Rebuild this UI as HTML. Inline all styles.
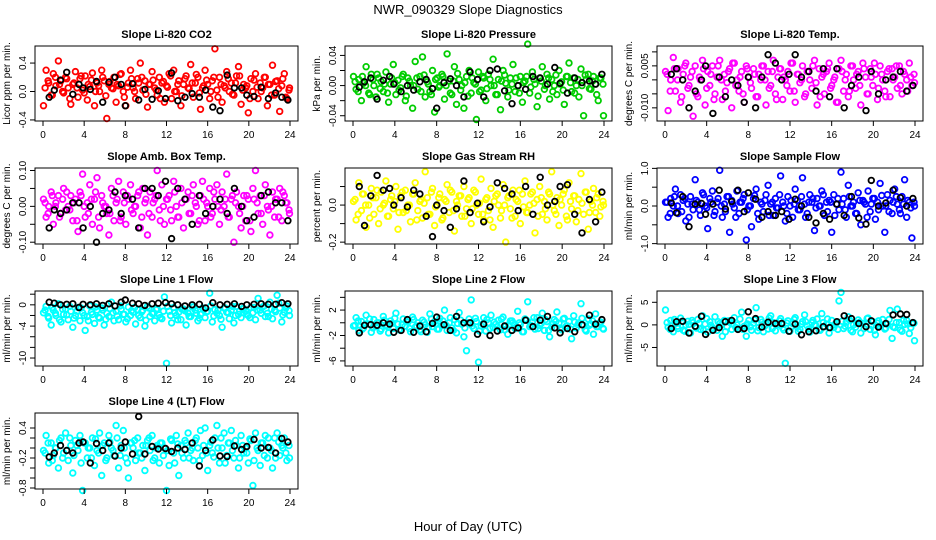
<!DOCTYPE html>
<html><head><meta charset="utf-8"><style>
body{margin:0;background:#fff}
svg{display:block;font-family:"Liberation Sans",sans-serif}
</style></head><body>
<svg id="chart" width="936" height="540" viewBox="0 0 936 540" xmlns="http://www.w3.org/2000/svg">
<rect width="936" height="540" fill="#fff"/>
<text x="468" y="14" text-anchor="middle" font-size="13">NWR_090329  Slope Diagnostics</text>
<text x="468" y="531" text-anchor="middle" font-size="13">Hour of Day (UTC)</text>
</svg>
<script>
const H=[0.05,0.3,0.55,0.8,1.0,1.25,1.5,1.75,2.0,2.2,2.45,2.7,2.9,3.15,3.4,3.6,3.85,4.1,4.3,4.55,4.8,5.0,5.25,5.5,5.7,5.95,6.2,6.4,6.65,6.9,7.1,7.35,7.6,7.8,8.05,8.3,8.5,8.75,9.0,9.2,9.45,9.7,9.9,10.15,10.4,10.6,10.85,11.1,11.3,11.55,11.8,12.0,12.25,12.5,12.7,12.95,13.2,13.4,13.65,13.9,14.1,14.35,14.6,14.8,15.05,15.3,15.5,15.75,16.0,16.2,16.45,16.7,16.9,17.15,17.4,17.6,17.85,18.1,18.3,18.55,18.8,19.0,19.25,19.5,19.7,19.95,20.2,20.4,20.65,20.9,21.1,21.35,21.6,21.8,22.05,22.3,22.5,22.75,23.0,23.2,23.45,23.7,23.95];
const H2=[0.2,0.5,0.9,1.2,1.6,1.9,2.3,2.6,3.0,3.3,3.7,4.0,4.4,4.7,5.1,5.4,5.8,6.1,6.5,6.8,7.2,7.5,7.9,8.2,8.6,8.9,9.3,9.6,10.0,10.3,10.7,11.0,11.4,11.7,12.1,12.4,12.8,13.1,13.5,13.8,14.2,14.5,14.9,15.2,15.6,15.9,16.3,16.6,17.0,17.3,17.7,18.0,18.4,18.7,19.1,19.4,19.8,20.1,20.5,20.8,21.2,21.5,21.9,22.2,22.6,22.9,23.3,23.6,23.9];
const B=[0.6,1.1,1.7,2.3,2.9,3.5,3.9,4.6,5.2,5.8,6.4,7.0,7.6,8.0,8.7,9.3,9.9,10.6,11.2,11.9,12.5,13.1,13.8,14.5,15.2,15.8,16.5,17.2,17.9,18.6,19.3,19.8,20.5,21.2,21.9,22.6,23.2,23.8];
const xTicks=[0,4,8,12,16,20,24];
const c1=[-0.2,0.3,0.12,-0.05,0.25,0.08,0.43,0.15,-0.02,0.2,0.05,-0.18,0.1,0.28,-0.08,0.18,0.02,0.22,-0.12,0.07,0.26,-0.2,0.12,0.0,0.3,0.15,-0.38,0.1,0.05,0.2,-0.15,0.08,0.25,0.0,-0.2,0.12,0.3,0.05,-0.1,0.18,0.4,0.02,0.15,-0.22,0.1,0.28,0.05,-0.05,0.2,0.12,-0.15,0.08,0.25,-0.1,0.3,0.0,0.15,-0.2,0.1,0.22,0.05,0.38,-0.08,0.12,0.2,-0.25,0.05,0.3,0.1,-0.1,0.15,0.6,0.02,0.2,-0.15,0.08,0.28,0.0,0.12,-0.05,0.22,0.35,-0.18,0.1,0.05,-0.3,0.18,0.0,0.25,-0.1,0.12,0.05,0.2,-0.2,0.1,0.37,-0.05,0.15,-0.28,0.08,0.25,-0.1,0.05];
const d1=[0.05,0.15,-0.05,0.2,0.1,0.0,0.18,-0.1,0.12,0.05,0.22,-0.02,0.1,0.16,0.0,0.08,0.2,-0.06,0.14,0.04,0.1,0.24,-0.08,0.06,0.18,0.0,0.12,0.2,-0.04,0.1,0.16,0.02,-0.1,0.14,0.06,0.22,0.0,0.1,-0.06,0.18,0.04,0.12,0.24,-0.02,0.08,0.16,0.0,0.2,-0.08,0.1,0.05,0.18,-0.04,0.12,0.22,0.02,0.08,-0.1,0.16,0.06,0.0,0.2,0.1,-0.05,0.14,0.04,0.18,-0.08,0.02];
const k1=[-0.08,0.02,0.16,0.27,-0.04,0.1,0.05,0.03,0.14,-0.15,0.13,0.2,0.1,-0.2,0.11,-0.12,0.03,-0.11,0.01,-0.1,0.26,-0.13,-0.08,-0.03,-0.08,0.02,-0.22,-0.27,0.23,0.05,0.05,-0.05,-0.07,0.06,-0.1,-0.02,-0.08,-0.12];
const c2=[0.012,-0.005,0.008,-0.02,0.003,0.025,-0.01,0.015,0.0,-0.015,0.01,0.005,-0.008,0.018,-0.022,0.002,0.028,-0.012,0.007,-0.003,0.015,-0.02,0.01,0.0,-0.03,0.032,-0.005,0.012,0.038,-0.015,0.005,-0.008,0.02,-0.035,0.01,0.0,0.015,-0.018,0.042,0.006,-0.012,0.025,-0.025,0.008,0.0,-0.03,0.012,0.02,-0.01,0.004,-0.045,0.018,-0.006,0.01,-0.02,0.015,0.0,0.035,-0.012,0.008,-0.032,0.02,0.003,-0.015,0.01,0.028,-0.008,0.0,0.012,-0.022,0.006,0.055,-0.01,0.018,0.002,-0.028,0.01,0.025,-0.005,0.015,-0.018,0.008,0.0,-0.012,0.02,0.005,-0.025,0.012,0.03,-0.008,0.01,0.0,-0.015,0.022,-0.04,0.008,0.015,-0.005,0.012,0.002,-0.02,0.01,-0.04];
const d2=[0.005,-0.008,0.012,0.0,-0.012,0.008,0.015,-0.004,0.002,-0.01,0.01,0.004,-0.006,0.012,-0.014,0.006,0.0,0.01,-0.008,0.014,0.002,-0.012,0.008,-0.002,0.012,0.0,-0.01,0.006,0.016,-0.006,0.004,-0.014,0.01,0.002,-0.008,0.012,-0.004,0.008,0.0,-0.012,0.006,0.014,-0.006,0.002,0.01,-0.01,0.004,0.012,-0.002,0.008,-0.014,0.006,0.0,0.01,-0.008,0.014,0.002,-0.006,0.012,0.004,-0.01,0.008,0.0,0.014,-0.004,0.006,-0.012,0.01,0.002];
const k2=[-0.002,0.005,0.01,-0.018,0.007,0.012,0.002,-0.008,0.0,-0.006,0.005,0.008,-0.004,-0.03,0.004,0.009,0.0,-0.015,0.018,0.008,-0.015,0.02,0.022,-0.007,-0.024,0.0,-0.005,0.012,0.01,0.002,0.024,0.003,-0.01,0.01,0.004,0.006,0.002,0.015];
const c3=[0.003,-0.011,0.0,0.008,-0.004,0.004,-0.008,0.002,0.006,-0.003,0.001,-0.013,0.005,-0.006,0.0,0.007,-0.009,0.003,-0.002,0.005,-0.005,0.001,0.007,-0.007,0.002,-0.001,0.004,-0.01,0.006,0.0,-0.004,0.003,-0.008,0.005,0.001,-0.003,0.004,-0.006,0.002,0.0,0.005,-0.009,0.003,-0.002,0.007,-0.005,0.001,0.004,-0.007,0.0,0.003,-0.004,0.006,-0.008,0.002,-0.001,0.005,-0.006,0.003,0.0,-0.003,0.007,-0.009,0.004,0.001,-0.005,0.003,0.006,-0.002,0.0,-0.008,0.004,0.007,-0.004,0.002,-0.006,0.005,0.0,-0.003,0.003,-0.009,0.006,0.001,-0.005,0.004,-0.002,0.002,-0.007,0.005,0.0,-0.004,0.003,-0.006,0.004,0.001,-0.003,0.005,-0.005,0.002,0.0,0.006,-0.002,-0.001];
const d3=[0.002,-0.004,0.004,0.0,-0.006,0.005,-0.002,0.003,-0.005,0.001,0.004,-0.003,0.002,-0.007,0.005,0.0,-0.004,0.003,0.006,-0.002,0.001,-0.005,0.004,-0.001,0.002,-0.006,0.005,0.0,-0.003,0.003,-0.007,0.004,0.001,-0.002,0.006,-0.004,0.002,0.0,-0.005,0.003,0.005,-0.001,-0.006,0.002,0.004,-0.003,0.001,-0.008,0.003,0.0,-0.004,0.005,0.002,-0.002,0.004,-0.005,0.001,0.006,-0.003,0.002,-0.006,0.004,0.0,0.005,-0.002,0.003,-0.004,0.001,0.002];
const k3=[0.002,0.004,0.0,-0.01,-0.004,0.0,0.005,-0.012,0.001,-0.006,0.0,-0.002,-0.008,0.001,-0.01,0.001,0.009,0.006,0.0,0.002,0.009,0.001,0.003,-0.004,0.004,-0.006,0.004,-0.01,-0.002,0.001,-0.011,0.003,-0.005,0.0,0.001,0.003,-0.004,-0.002];
const c4=[0.02,-0.03,0.0,0.04,-0.05,0.01,0.03,-0.02,0.05,-0.01,0.0,0.03,-0.04,0.02,-0.07,0.04,0.09,-0.03,0.01,0.06,-0.05,0.02,0.08,-0.06,0.03,0.0,-0.02,-0.08,0.05,-0.04,0.01,0.07,-0.03,0.04,-0.05,0.02,0.06,-0.02,0.0,0.03,-0.06,0.05,0.01,-0.08,0.04,-0.03,0.02,0.1,-0.01,0.06,-0.05,0.02,0.03,-0.04,0.07,0.0,-0.03,0.05,-0.06,0.02,0.04,-0.02,0.06,0.01,-0.05,0.03,0.07,-0.04,0.0,0.05,-0.02,0.02,0.06,-0.05,0.04,0.0,0.09,-0.03,0.02,-0.1,0.04,0.0,-0.06,0.03,-0.04,0.02,-0.07,0.05,0.1,-0.02,0.03,-0.05,0.06,0.0,-0.08,0.04,-0.03,0.02,0.05,-0.04,0.03,0.01,-0.02];
const d4=[0.01,-0.02,0.03,0.0,-0.03,0.02,0.04,-0.01,0.01,-0.04,0.03,0.0,-0.02,0.02,0.04,-0.03,0.01,0.0,-0.02,0.03,0.02,-0.04,0.01,0.03,-0.01,0.0,0.04,-0.03,0.02,-0.02,0.01,0.03,-0.04,0.0,0.02,-0.01,0.04,-0.03,0.01,0.02,-0.02,0.03,0.0,-0.04,0.02,0.01,-0.03,0.04,0.0,-0.01,0.02,-0.03,0.03,0.01,-0.02,0.0,0.03,-0.04,0.02,0.01,-0.02,0.03,-0.01,0.0,0.02,-0.03,0.04,0.01,-0.01];
const k4=[-0.06,-0.01,-0.02,-0.01,0.01,0.01,-0.06,0.0,-0.1,-0.02,-0.01,0.04,-0.02,0.03,0.02,-0.06,0.05,0.05,0.03,0.07,-0.09,0.05,0.02,-0.05,0.03,-0.02,0.0,0.02,-0.02,0.05,0.0,-0.04,-0.03,0.03,0.04,0.01,0.01,-0.04];
const c5=[0.02,-0.08,0.12,-0.03,0.06,-0.12,0.0,0.09,-0.05,0.04,-0.1,0.07,0.0,0.13,-0.06,0.03,-0.02,0.1,-0.13,0.05,-0.04,0.08,0.0,-0.09,0.06,0.12,-0.03,0.02,-0.07,0.18,0.04,-0.05,0.09,-0.11,0.0,0.06,-0.08,0.03,0.11,-0.04,0.07,-0.14,0.02,0.05,-0.06,0.1,-0.02,0.04,-0.1,0.08,0.0,-0.05,0.14,-0.08,0.03,-0.03,0.09,-0.12,0.05,0.0,-0.07,0.11,-0.2,0.04,-0.02,0.08,-0.06,0.02,-0.1,0.06,0.13,-0.04,0.0,0.07,-0.15,0.03,0.1,-0.05,0.02,-0.08,0.06,0.18,-0.03,0.04,-0.11,0.0,0.08,-0.06,0.12,-0.02,0.05,-0.09,0.03,0.17,-0.05,0.07,-0.13,0.02,0.09,-0.04,0.06,-0.01,0.0];
const d5=[0.03,-0.05,0.06,0.0,-0.07,0.04,0.08,-0.02,0.01,-0.06,0.05,0.02,-0.04,0.07,-0.03,0.0,0.06,-0.08,0.03,0.01,-0.05,0.07,-0.01,0.04,-0.07,0.02,0.08,-0.03,0.0,0.05,-0.06,0.03,-0.02,0.07,0.01,-0.05,0.04,-0.08,0.02,0.06,-0.03,0.0,0.05,-0.07,0.03,0.08,-0.01,-0.04,0.06,0.01,-0.06,0.04,-0.02,0.07,0.0,-0.05,0.03,0.06,-0.08,0.02,0.05,-0.03,0.01,0.07,-0.04,0.0,0.04,-0.06,0.02];
const k5=[0.1,-0.11,0.05,0.16,0.08,0.09,0.0,0.04,-0.01,0.08,0.06,-0.06,-0.17,0.0,-0.03,-0.12,-0.02,0.13,-0.04,0.01,-0.09,-0.01,0.12,0.09,0.06,-0.03,0.1,-0.05,0.15,0.0,0.02,0.1,0.11,-0.05,-0.15,0.03,-0.09,0.07];
const c6=[0.1,-0.3,0.2,0.0,0.45,-0.2,0.3,0.15,-0.4,0.05,0.25,-0.1,0.7,0.1,-0.25,0.35,0.0,-0.6,0.2,0.4,-0.15,0.1,0.95,-0.3,0.05,0.25,-0.7,0.15,-0.05,0.4,-0.2,0.1,0.3,-0.9,0.0,-0.55,0.2,0.45,-0.35,0.1,-0.15,0.3,0.55,0.05,-0.25,0.2,-0.05,0.8,0.1,-0.4,0.25,0.0,-0.3,0.45,0.15,-0.1,0.75,0.05,-0.2,0.3,0.1,-0.65,0.2,0.0,0.4,-0.25,0.1,0.15,-0.7,0.3,0.05,-0.1,0.9,0.2,-0.3,0.55,0.0,0.1,-0.2,0.35,-0.5,0.15,0.05,0.4,-0.15,0.2,-0.35,0.1,0.6,0.0,-0.7,0.3,0.15,-0.2,0.45,0.05,-0.1,0.25,0.7,-0.3,0.1,-0.85,0.0];
const d6=[0.1,-0.2,0.25,0.0,-0.15,0.2,-0.3,0.05,0.15,-0.1,0.3,-0.05,0.1,-0.25,0.2,0.0,-0.15,0.25,0.05,-0.3,0.1,0.2,-0.1,0.0,0.28,-0.2,0.05,0.15,-0.25,0.1,-0.05,0.3,0.0,-0.2,0.15,0.05,-0.1,0.25,-0.3,0.1,0.2,-0.05,0.0,0.3,-0.15,0.1,-0.25,0.2,0.05,-0.1,0.25,0.0,-0.2,0.15,0.1,-0.3,0.05,0.2,-0.1,0.28,0.0,-0.15,0.1,0.25,-0.2,0.05,0.15,-0.05,0.1];
const k6=[0.08,-0.18,0.25,-0.55,0.05,0.07,-0.22,0.05,0.42,-0.08,0.12,0.42,-0.15,0.35,0.18,-0.3,-0.15,-0.25,-0.15,-0.35,0.18,0.0,-0.3,-0.45,-0.2,-0.35,0.05,-0.25,0.25,-0.32,-0.48,0.68,0.0,0.08,0.42,0.22,0.0,0.2];
const c7=[-1.5,-0.3,-2.5,-3.8,-1.0,-2.0,0.2,-3.2,-1.8,-0.8,-2.8,-1.2,-4.2,-2.0,-0.5,-3.0,-1.5,-4.8,-2.2,-0.2,-1.8,-3.5,-1.0,-2.5,-0.6,-3.8,-1.6,-2.2,0.5,-3.0,-1.2,-2.8,-0.8,-1.8,-3.2,-0.4,-2.0,-1.4,-3.6,-0.9,-2.4,-1.0,-4.0,-0.3,-2.2,-1.6,-3.0,-0.7,-1.9,-2.6,1.5,-11.0,-1.2,-3.4,-0.5,-2.0,-1.4,-2.8,-0.8,-3.8,-1.6,-2.2,-0.4,-1.0,-3.0,-1.8,-0.6,-2.4,-1.2,2.2,-3.2,-0.9,-1.6,-2.0,-4.2,-0.6,-1.4,-2.6,-1.0,-3.4,-0.3,-1.8,-2.4,-0.7,-1.2,-2.0,-0.5,-1.5,-2.8,1.2,-1.0,-0.4,-2.2,-1.6,0.5,-2.6,-1.0,1.8,-0.6,-3.2,-1.4,-0.2,-2.0];
const d7=[-1.0,-2.2,-0.5,-1.6,-2.8,-0.8,-1.9,-0.3,-2.5,-1.2,-0.6,-2.0,-3.0,-1.4,-0.4,-2.3,-1.0,-2.7,-0.7,-1.5,-2.1,-0.2,-1.8,-2.6,-1.1,-0.5,-2.0,-1.3,-2.9,-0.6,-1.7,-0.9,-2.4,-1.2,-0.3,-2.0,-1.5,-2.8,-0.8,-1.1,-2.2,-0.4,-1.6,-2.5,-0.9,-1.3,-0.2,-2.1,-1.0,-2.7,-0.6,-1.5,-0.3,-2.0,-1.2,-0.7,-1.8,-2.4,-0.5,-1.0,-1.6,-0.2,-2.2,-0.8,-1.3,0.3,-1.9,-0.6,-1.1];
const k7=[0.5,0.3,0.0,0.1,0.2,-0.5,0.1,0.0,0.2,-0.1,0.2,-0.2,0.5,0.9,0.3,0.2,-0.1,0.2,0.3,0.4,0.2,0.0,-0.2,0.0,0.1,-0.6,0.4,0.0,0.1,0.2,-0.3,0.0,0.1,0.2,0.1,0.1,0.4,0.2];
const c8=[-0.5,0.8,-1.2,0.2,-0.8,1.2,-0.2,-1.5,0.5,-0.6,0.0,-1.0,1.0,-0.4,-1.6,0.3,-0.9,1.5,-0.2,-1.2,0.6,-0.5,0.1,-1.4,0.9,-0.7,0.0,-1.1,0.4,-0.3,-1.5,1.4,-0.6,0.2,-1.0,0.7,-0.4,2.0,-1.2,0.0,-0.8,0.5,-1.6,1.6,-0.2,-2.2,-4.4,0.6,3.6,-0.9,0.2,-6.2,-0.5,0.8,-1.3,0.0,1.2,-0.7,-0.2,0.4,-1.1,0.9,-0.5,-1.8,0.3,0.0,-0.9,1.8,-0.3,-1.4,0.6,3.3,-0.6,0.1,-1.0,0.8,-0.4,1.5,-1.2,0.2,-2.2,-0.7,0.5,1.7,-0.1,-1.1,0.7,-0.5,0.2,-2.5,1.1,-0.8,0.0,3.0,-0.4,-1.3,0.6,-0.2,-1.8,1.4,-0.6,0.1,-1.0];
const d8=[-0.4,0.3,-1.0,-0.2,0.6,-0.8,0.0,-1.3,0.4,-0.6,-0.1,0.7,-1.1,-0.3,0.2,-0.9,0.5,-0.5,-1.4,0.1,-0.7,0.6,-0.2,-1.0,0.3,-0.4,0.8,-1.2,-0.1,0.4,-0.8,0.0,-0.5,0.7,-1.3,-0.2,0.5,-0.9,0.1,-0.6,0.6,-1.1,-0.3,0.3,-0.7,0.0,-1.4,0.4,-0.4,0.8,-0.9,-0.1,0.5,-1.2,-0.2,0.2,-0.8,0.6,-0.5,-1.0,0.1,-0.3,0.7,-1.1,-0.4,0.3,-0.6,0.0,-0.9];
const k8=[-1.6,-0.4,-0.3,-0.4,0.0,-0.2,-1.5,-1.2,0.5,-1.5,-0.5,-1.4,-0.1,0.9,-0.3,-1.2,1.0,0.0,0.0,-1.8,-0.2,-2.0,-1.3,-0.5,-1.2,-0.8,0.4,-0.6,0.4,1.0,-0.8,-1.6,-0.9,-1.4,-0.3,1.2,-0.2,0.5];
const c9=[3.3,-0.5,1.0,-1.5,0.3,-0.8,1.5,-1.2,0.0,0.8,-1.8,0.5,-0.3,1.2,-1.0,2.0,0.2,-1.6,0.7,-0.6,1.8,-1.2,0.3,-2.5,1.0,-0.4,0.6,-1.0,1.6,0.0,-0.8,2.8,-0.3,-2.5,1.0,-1.2,0.4,3.8,-0.6,1.2,-1.5,0.2,-0.9,2.0,0.5,-1.3,0.0,1.4,-0.7,-8.5,0.9,-1.4,0.3,1.6,-0.5,-1.0,0.7,2.2,-0.2,-1.6,0.5,0.0,1.3,-1.1,2.5,-0.4,0.2,-1.8,1.0,-0.6,0.4,5.3,7.2,-0.8,0.6,1.8,-1.2,0.0,-0.5,1.1,-1.8,0.3,-0.2,1.5,-1.0,0.7,-2.2,0.4,-0.3,1.2,-0.9,0.2,3.2,-3.0,-0.6,3.5,0.5,-1.4,0.1,1.0,-1.9,0.3,-3.5];
const d9=[0.5,-1.0,1.2,-0.3,0.8,-1.4,0.1,1.0,-0.7,0.4,-1.2,1.4,-0.1,-0.9,0.7,0.0,-1.5,0.9,0.3,-0.6,1.3,-1.0,0.2,-0.4,1.1,-1.3,0.6,-0.2,1.5,-0.8,0.0,0.9,-1.1,0.4,-0.5,1.2,-1.4,0.2,0.7,-0.9,1.0,-0.2,-1.2,0.5,1.3,-0.6,0.1,-1.0,0.8,-0.3,1.1,-1.5,0.3,0.6,-0.8,1.4,-0.1,-1.2,0.9,0.0,-0.7,1.2,-0.4,0.5,-1.1,1.0,0.2,-0.6,0.4];
const k9=[-0.8,0.7,0.8,-1.8,-0.3,1.9,-2.1,-1.2,-0.6,0.7,1.0,-1.0,-0.8,2.9,1.4,-0.5,0.6,0.3,0.3,-1.4,0.2,-2.2,-1.5,-1.3,-0.4,-0.6,0.7,2.0,1.4,0.3,-0.4,0.9,-0.5,0.3,2.2,2.4,2.3,0.5];
const c10=[-0.05,0.25,-0.3,0.1,-0.15,0.0,-0.4,0.2,-0.1,0.3,-0.25,0.05,-0.5,0.15,-0.05,0.25,-0.85,0.1,-0.2,0.0,0.2,-0.35,-0.05,0.3,-0.55,0.1,-0.2,0.25,0.0,-0.15,0.45,-0.4,0.05,0.35,-0.2,-0.6,0.1,0.0,-0.25,0.2,-0.1,0.05,-0.45,0.15,-0.05,0.25,-0.2,0.05,-0.3,0.1,0.0,-0.85,-0.35,0.15,-0.1,0.25,-0.55,0.05,-0.2,0.1,0.3,-0.05,-0.25,0.15,0.0,0.35,-0.15,0.4,-0.45,0.05,-0.1,0.2,0.45,-0.3,0.0,0.3,-0.15,0.1,0.35,-0.2,0.05,-0.4,0.25,-0.1,0.0,-0.3,0.15,-0.75,0.3,-0.05,-0.35,0.1,0.25,-0.2,0.0,-0.4,0.2,0.3,-0.15,0.05,0.2,-0.25,-0.2];
const d10=[-0.1,0.1,-0.25,0.0,0.15,-0.2,-0.05,0.2,-0.15,0.05,-0.3,0.1,0.0,-0.2,0.18,-0.1,0.05,-0.25,0.12,-0.05,0.2,-0.15,0.0,-0.3,0.1,0.15,-0.1,-0.2,0.05,0.2,-0.25,0.0,0.1,-0.15,-0.05,0.18,-0.3,0.08,-0.1,0.15,-0.2,0.0,0.2,-0.25,0.05,-0.1,0.12,-0.18,0.0,0.2,-0.3,0.1,-0.05,0.15,-0.2,0.05,-0.1,0.18,-0.25,0.0,0.1,-0.15,0.2,-0.05,-0.2,0.12,0.0,-0.1,0.05];
const k10=[-0.18,-0.1,0.05,-0.05,-0.1,0.1,0.12,-0.3,0.09,-0.05,0.1,-0.16,0.0,0.12,-0.12,0.63,-0.12,0.03,-0.02,-0.01,-0.07,0.0,-0.03,0.1,-0.36,-0.05,0.16,-0.16,-0.17,0.04,-0.03,0.03,0.17,0.0,0.01,-0.1,0.19,0.12];
const titles=["Slope Li-820 CO2","Slope Li-820 Pressure","Slope Li-820 Temp.","Slope Amb. Box Temp.","Slope Gas Stream RH","Slope Sample Flow","Slope Line 1 Flow","Slope Line 2 Flow","Slope Line 3 Flow","Slope Line 4 (LT) Flow"];
const yTitles=["Licor ppm per min.","kPa per min.","degrees C per min.","degrees C per min.","percent per min.","ml/min per min.","ml/min per min.","ml/min per min.","ml/min per min.","ml/min per min."];
const yTicks=[[-0.4,0,0.4],[-0.04,-0.02,0,0.02,0.04],[-0.01,-0.005,0,0.005,0.01],[-0.1,-0.05,0,0.05,0.1],[-0.2,-0.1,0,0.1],[-1,-0.5,0,0.5,1],[-10,-8,-6,-4,-2,0,2],[-6,-4,-2,0,2,4],[-5,0,5],[-0.8,-0.6,-0.4,-0.2,0,0.2,0.4]];
const yTickLabels=[["-0.4","0.0","0.4"],["-0.04","","0.00","","0.04"],["-0.010","","","0.005",""],["-0.10","","0.00","","0.10"],["-0.2","","0.0",""],["-1.0","","0.0","","1.0"],["-10","","","-4","","0",""],["-6","","-2","","2",""],["-5","0","5"],["-0.8","","","-0.2","","","0.4"]];
const yLims=[[-0.415,0.64],[-0.047,0.0525],[-0.0147,0.0121],[-0.105,0.107],[-0.21,0.2],[-1.01,1.01],[-11.5,2.6],[-6.8,5],[-9.1,7.5],[-0.82,0.7]];
const colorVals=[c1,c2,c3,c4,c5,c6,c7,c8,c9,c10];
const coreVals=[d1,d2,d3,d4,d5,d6,d7,d8,d9,d10];
const blackVals=[k1,k2,k3,k4,k5,k6,k7,k8,k9,k10];
const colors=["#ff0000","#00cd00","#ff00ff","#ff00ff","#ffff00","#0000ff","#00ffff","#00ffff","#00ffff","#00ffff"];

const NS="http://www.w3.org/2000/svg";
const svg=document.getElementById('chart');
const cols=[[35,298],[345,612],[657,923]];
const rows=[[46,121],[168,244],[291,366],[413,489]];
function mk(tag,attrs,parent){const e=document.createElementNS(NS,tag);for(const k in attrs)e.setAttribute(k,attrs[k]);(parent||svg).appendChild(e);return e;}
for(let p=0;p<10;p++){
  const [L,R]=cols[p%3],[T,Bt]=rows[Math.floor(p/3)];
  const g=mk('g',{});
  
  
  const xs=h=>L+8+(h/24)*(R-L-16);
  const [y0,y1]=yLims[p];
  const ys=v=>Bt-(v-y0)/(y1-y0)*(Bt-T);
  const pts=mk('g',{fill:'none',stroke:colors[p],'stroke-width':1.8},g);
  
  
  const cv=colorVals[p],n=Math.min(H.length,cv.length);
  for(let i=0;i<n;i++){const c=mk('circle',{cx:xs(H[i]).toFixed(1),cy:ys(cv[i]).toFixed(1),r:2.8},pts);}
  const dv=coreVals[p],n2=Math.min(H2.length,dv.length);
  for(let i=0;i<n2;i++){const c=mk('circle',{cx:xs(H2[i]).toFixed(1),cy:ys(dv[i]).toFixed(1),r:2.8},pts);}
  const kv=blackVals[p],m=Math.min(B.length,kv.length);
  const bp=mk('g',{fill:'none',stroke:'#000','stroke-width':1.8},g);
  
  
  for(let i=0;i<m;i++){const c=mk('circle',{cx:xs(B[i]).toFixed(1),cy:ys(kv[i]).toFixed(1),r:2.8},bp);}
  const box=mk('rect',{x:L,y:T,width:R-L,height:Bt-T,fill:'none',stroke:'#000','stroke-width':1},g);
  
  
  const xa=mk('g',{},g);
  
  
  mk('line',{x1:xs(0),x2:xs(24),y1:Bt,y2:Bt,stroke:'#000'},xa);
  xTicks.forEach(t=>{mk('line',{x1:xs(t),x2:xs(t),y1:Bt,y2:Bt+5,stroke:'#000'},xa);const tx=mk('text',{x:xs(t),y:Bt+17,'text-anchor':'middle','font-size':10},xa);tx.textContent=t;});
  const ya=mk('g',{},g);
  
  
  const yt=yTicks[p];
  mk('line',{x1:L,x2:L,y1:ys(yt[0]),y2:ys(yt[yt.length-1]),stroke:'#000'},ya);
  yt.forEach((t,i)=>{const y=ys(t);mk('line',{x1:L-5,x2:L,y1:y,y2:y,stroke:'#000'},ya);const lb=yTickLabels[p][i];if(lb){const tx=mk('text',{x:L-9,y:y,'text-anchor':'middle','font-size':10,transform:`rotate(-90 ${L-9} ${y})`},ya);tx.textContent=lb;}});
  const yl=mk('text',{x:L-25,y:(T+Bt)/2,'text-anchor':'middle','font-size':10,transform:`rotate(-90 ${L-25} ${(T+Bt)/2})`},g);
  yl.textContent=yTitles[p];
  
  
  const tt=mk('text',{x:(L+R)/2,y:T-8,'text-anchor':'middle','font-size':11,'font-weight':'bold'},g);
  tt.textContent=titles[p];
  
  
}
</script>
</body></html>
